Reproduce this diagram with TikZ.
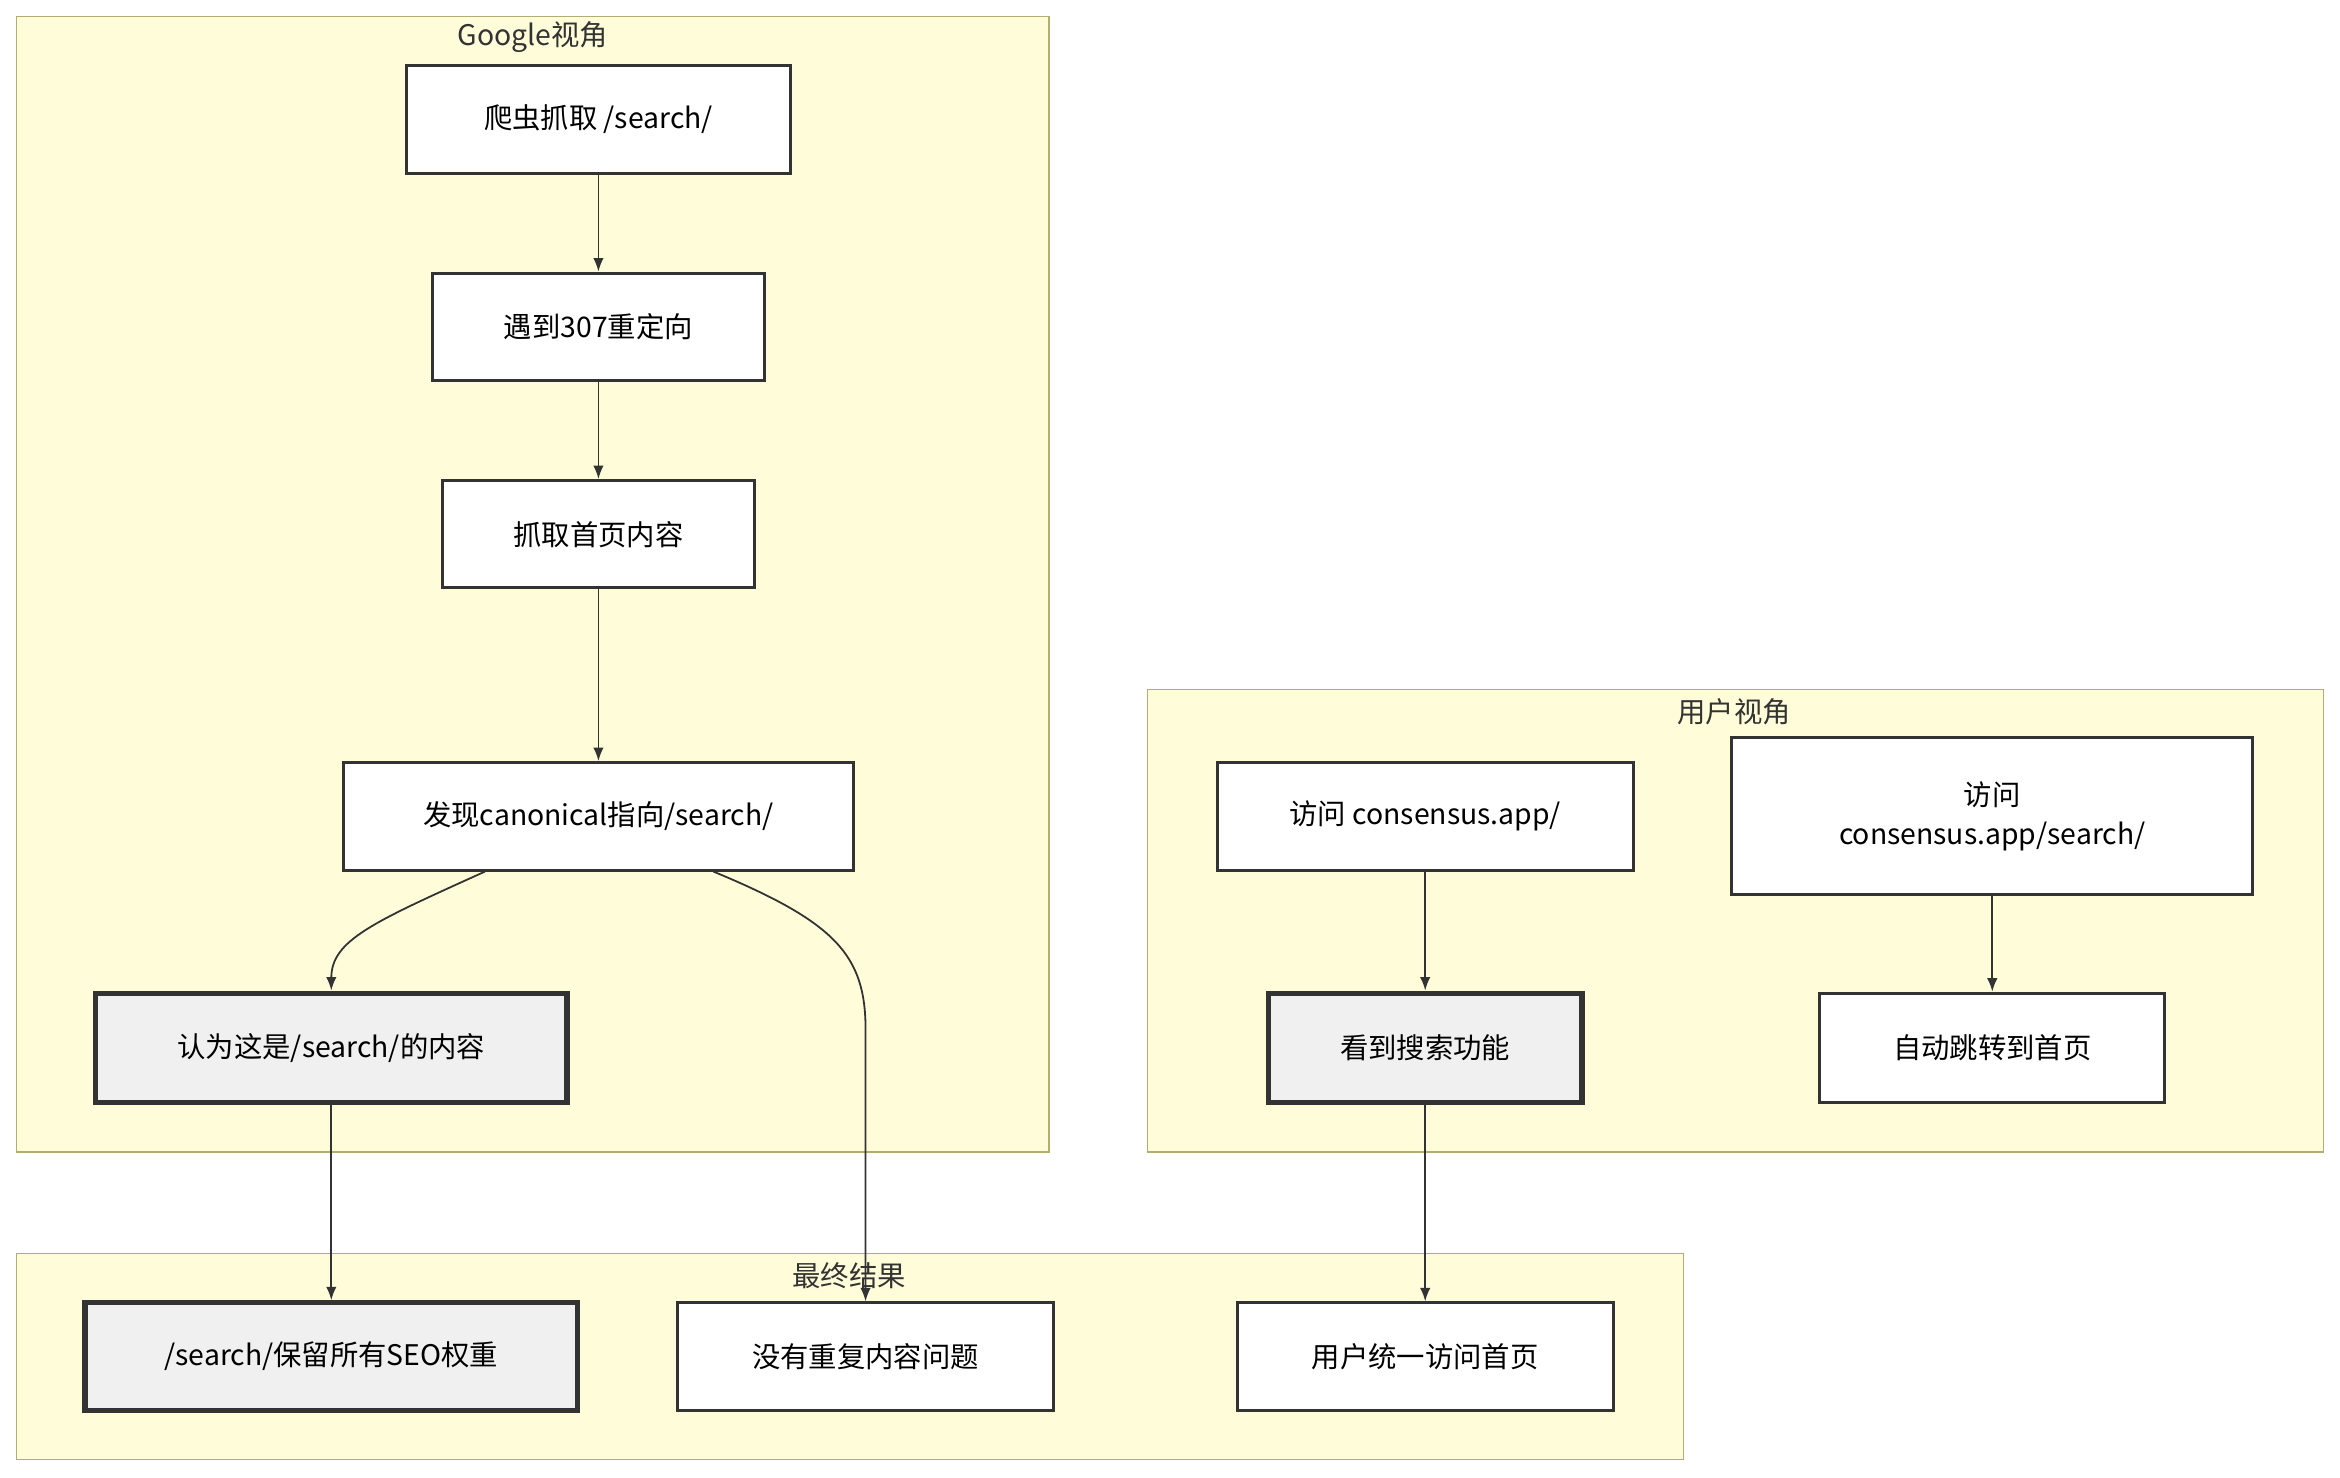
\documentclass[tikz,border=0pt]{standalone}
\usepackage{fontspec}
\setmainfont{Noto Sans CJK SC}
\begin{document}
\begin{tikzpicture}[x=1pt,y=-1pt,
  cl/.style={draw=yellow!50!black!70,fill=yellow!15!white,line width=1pt},
  clab/.style={font=\fontsize{19}{22}\selectfont,text=black!80},
  nd/.style={draw=black!80,fill=white,line width=2pt,font=\fontsize{19}{26}\selectfont,align=center,inner sep=0pt},
  hl/.style={nd,fill=black!6,line width=3.5pt},
  ar/.style={draw=black!80,line width=1.2pt,-{Latex[length=9pt,width=7pt]}}]
\usetikzlibrary{arrows.meta}
\useasboundingbox (0,0) rectangle (1568,990);
\fill[white] (0,0) rectangle (1568,990);
\draw[cl] (11,11) rectangle (703,772);
\node[clab] (gl) at (357,25) {Google视角};
\draw[cl] (769,462) rectangle (1557,772);
\node[clab] (ul) at (1162,477) {用户视角};
\draw[cl] (11,840) rectangle (1128,978);
\node[clab] (rl) at (569,855) {最终结果};
\node[nd,minimum width=257,minimum height=72] (A) at (401,80) {爬虫抓取 /search/};
\node[nd,minimum width=222,minimum height=72] (B) at (401,219) {遇到307重定向};
\node[nd,minimum width=209,minimum height=72] (C) at (401,358) {抓取首页内容};
\node[nd,minimum width=342,minimum height=72] (D) at (401,547) {发现canonical指向/search/};
\node[hl,minimum width=316,minimum height=73] (E) at (222,702) {认为这是/search/的内容};
\node[nd,minimum width=279,minimum height=72] (F) at (955,547) {访问 consensus.app/};
\node[nd,minimum width=349,minimum height=105] (G) at (1335,547) {访问\\consensus.app/search/};
\node[hl,minimum width=210,minimum height=73] (H) at (955,702) {看到搜索功能};
\node[nd,minimum width=231,minimum height=73] (I) at (1335,702) {自动跳转到首页};
\node[hl,minimum width=330,minimum height=72] (J) at (222,909) {/search/保留所有SEO权重};
\node[nd,minimum width=252,minimum height=72] (K) at (580,909) {没有重复内容问题};
\node[nd,minimum width=252,minimum height=72] (L) at (955,909) {用户统一访问首页};
\draw[ar] (A) -- (B);
\draw[ar] (B) -- (C);
\draw[ar] (C) -- (D);
\draw[ar] (D.south -| 325,0) .. controls (250,618) and (222,630) .. (E.north);
\draw[ar] (D.south -| 478,0) .. controls (560,618) and (580,640) .. (580,690) -- (K.north);
\draw[ar] (E) -- (J);
\draw[ar] (F) -- (H);
\draw[ar] (G) -- (I);
\draw[ar] (H) -- (L);
\end{tikzpicture}
\end{document}
